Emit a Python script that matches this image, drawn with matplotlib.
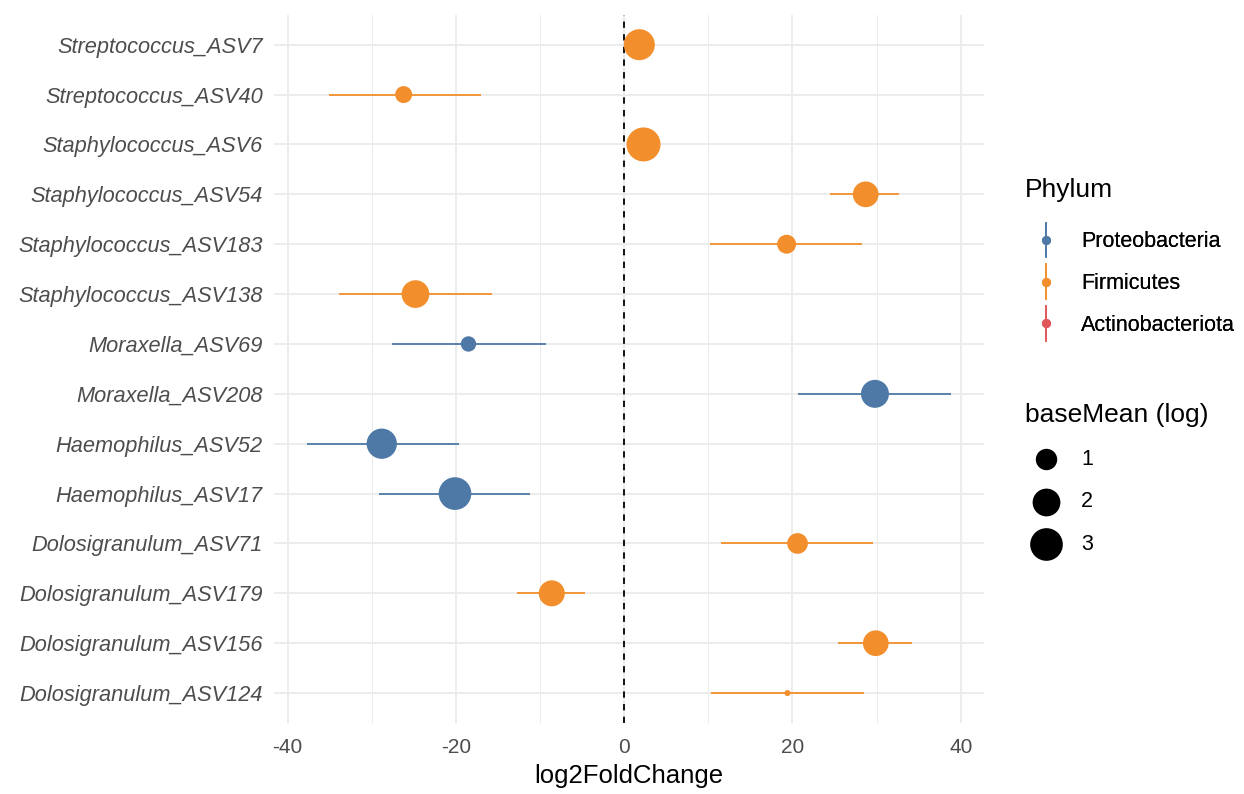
import matplotlib
matplotlib.use("Agg")
import matplotlib.pyplot as plt
import numpy as np
from matplotlib.lines import Line2D
from matplotlib.legend_handler import HandlerBase

plt.rcParams['font.family'] = ['Liberation Sans', 'DejaVu Sans']
plt.rcParams['axes.unicode_minus'] = False

# ---- data ----
taxa = ["Dolosigranulum_ASV124", "Dolosigranulum_ASV156", "Dolosigranulum_ASV179",
        "Dolosigranulum_ASV71", "Haemophilus_ASV17", "Haemophilus_ASV52",
        "Moraxella_ASV208", "Moraxella_ASV69", "Staphylococcus_ASV138",
        "Staphylococcus_ASV183", "Staphylococcus_ASV54", "Staphylococcus_ASV6",
        "Streptococcus_ASV40", "Streptococcus_ASV7"]
phylum = ["Firmicutes", "Firmicutes", "Firmicutes", "Firmicutes",
          "Proteobacteria", "Proteobacteria", "Proteobacteria", "Proteobacteria",
          "Firmicutes", "Firmicutes", "Firmicutes", "Firmicutes",
          "Firmicutes", "Firmicutes"]
log2fc = [19.4, 29.9, -8.6, 20.6, -20.1, -28.8, 29.8, -18.5, -24.8, 19.3, 28.7, 2.3, -26.2, 1.8]
fc_low = [10.3, 25.4, -12.7, 11.5, -29.1, -37.7, 20.6, -27.6, -33.9, 10.2, 24.4, 1.3, -35.1, 0.9]
fc_high = [28.5, 34.2, -4.7, 29.6, -11.2, -19.6, 38.8, -9.3, -15.7, 28.2, 32.6, 3.3, -17.0, 2.7]
base_mean_log = [0.0, 1.64, 1.69, 0.91, 3.01, 2.49, 2.04, 0.37, 1.99, 0.71, 1.64, 3.31, 0.51, 2.64]

phylum_levels = ["Proteobacteria", "Firmicutes", "Actinobacteriota"]
phylum_colors = {"Proteobacteria": "#4E79A7", "Firmicutes": "#F28E2B", "Actinobacteriota": "#E15759"}
size_breaks = [1, 2, 3]

DPI = 100


def marker_diam_px(v, vmax=3.8):
    # ggplot-like area scale: size = 1 + 5*sqrt(v / vmax)
    return 6.0 * (1 + 5 * np.sqrt(np.clip(v, 0, None) / vmax))


def area_pt2(v):
    d = marker_diam_px(np.asarray(v, dtype=float)) * 72.0 / DPI
    return d ** 2


class PointRangeHandler(HandlerBase):
    def create_artists(self, legend, orig_handle, xdescent, ydescent,
                       width, height, fontsize, trans):
        c = orig_handle.get_color()
        cx = width / 2 - xdescent
        cy = height / 2 - ydescent
        line = Line2D([cx, cx], [cy - 12.5, cy + 12.5], color=c, lw=1.2, transform=trans)
        dot = Line2D([cx], [cy], marker='o', ms=5.5, color=c, mec=c, transform=trans)
        return [line, dot]


fig = plt.figure(figsize=(12.44, 7.94), dpi=DPI)
ax = fig.add_axes([0.2203, 0.0894, 0.571, 0.892])

y = np.arange(len(taxa))
cols = [phylum_colors[p] for p in phylum]

ax.axvline(0, color='black', lw=1.3, dashes=(3.5, 3.5), zorder=1.5)
for i in range(len(taxa)):
    ax.plot([fc_low[i], fc_high[i]], [y[i], y[i]], color=cols[i], lw=1.3,
            solid_capstyle='butt', zorder=2)
ax.scatter(log2fc, y, s=area_pt2(base_mean_log), c=cols, linewidths=0, zorder=3)

ax.set_xlim(-41.6, 42.8)
ax.set_ylim(-0.6, len(taxa) - 0.4)
ax.set_yticks(y)
ax.set_yticklabels(taxa, style='italic', color='#4D4D4D', fontsize=15.7)
ax.set_xticks([-40, -20, 0, 20, 40])
ax.set_xticks([-30, -10, 10, 30], minor=True)
ax.tick_params(axis='x', labelsize=15, labelcolor='#4D4D4D', pad=10.5)
ax.tick_params(axis='y', pad=8)
ax.tick_params(which='both', length=0)
ax.set_xlabel("log2FoldChange", fontsize=18.5, labelpad=5)

ax.grid(True, which='major', color='#EBEBEB', lw=1.3)
ax.grid(True, which='minor', axis='x', color='#EBEBEB', lw=0.7)
ax.set_axisbelow(True)
for s in ax.spines.values():
    s.set_visible(False)

# legends
fig.text(0.824, 0.761, "Phylum", fontsize=19, ha='left', va='center')
ph_handles = [Line2D([], [], color=phylum_colors[p]) for p in phylum_levels]
leg1 = fig.legend(ph_handles, phylum_levels,
                  handler_map={Line2D: PointRangeHandler()},
                  loc='upper left', bbox_to_anchor=(0.8268, 0.7085),
                  frameon=False, fontsize=15.5, borderpad=0,
                  handlelength=1.6, handletextpad=0.84,
                  labelspacing=0.96, borderaxespad=0)
fig.add_artist(leg1)

fig.text(0.824, 0.4775, "baseMean (log)", fontsize=19, ha='left', va='center')
sz_handles = [plt.scatter([], [], s=area_pt2(b), c='black', linewidths=0) for b in size_breaks]
fig.legend(sz_handles, [str(b) for b in size_breaks],
           loc='upper left', bbox_to_anchor=(0.8268, 0.435),
           frameon=False, fontsize=15.5, borderpad=0,
           handlelength=1.6, handletextpad=0.84, labelspacing=1.01,
           borderaxespad=0, scatterpoints=1)

fig.savefig("out.png", dpi=DPI)
